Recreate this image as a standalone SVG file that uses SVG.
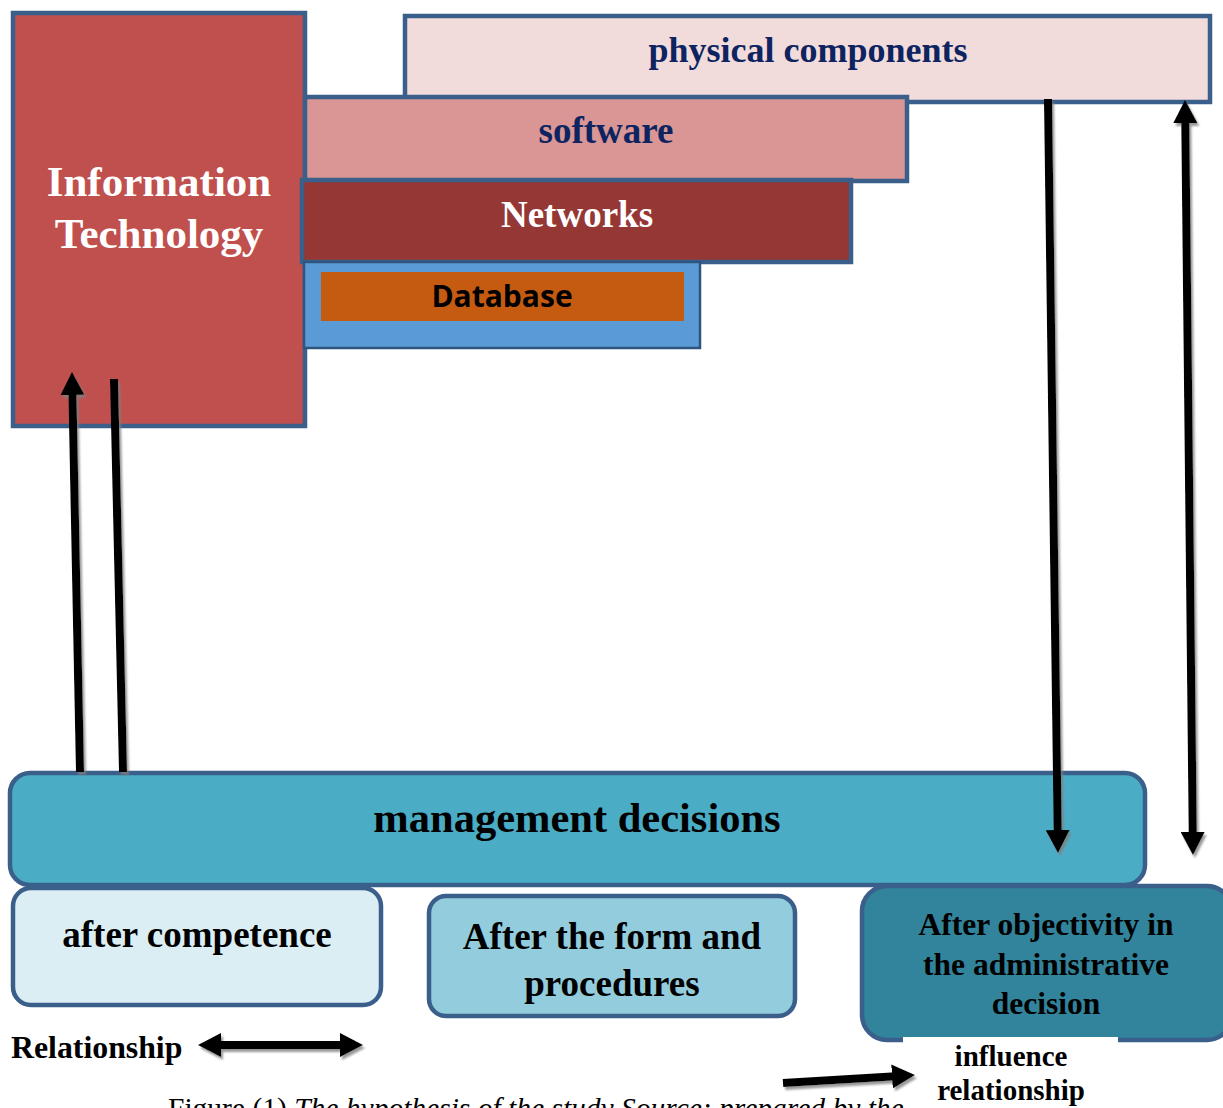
<svg xmlns="http://www.w3.org/2000/svg" width="1223" height="1108" viewBox="0 0 1223 1108">
<style>
.bx{stroke:#3A5F8B;stroke-width:4.5}
.rb{stroke:#3A5F8B;stroke-width:4.5}
.t{font-family:"Liberation Serif","Times New Roman",serif;font-weight:bold;text-anchor:middle}
.ar{stroke:#000;stroke-width:8;fill:none}
</style>
<defs>
<marker id="ah" viewBox="0 0 24 24" refX="8" refY="12" markerWidth="24" markerHeight="24" markerUnits="userSpaceOnUse" orient="auto-start-reverse">
<path d="M0,0 L23,12 L0,24 z" fill="#000"/>
</marker>
<filter id="sh" x="-20%" y="-20%" width="140%" height="140%">
<feDropShadow dx="2" dy="3" stdDeviation="1" flood-color="#7f7f7f" flood-opacity="0.8"/>
</filter>
</defs>

<g id="it">
<rect class="bx" x="13" y="13" width="292" height="413" fill="#C0504D"/>
<text class="t" x="159" y="196" font-size="43" fill="#fff">Information</text>
<text class="t" x="159" y="248" font-size="43" fill="#fff">Technology</text>
</g>

<g id="physical">
<rect class="bx" x="405" y="16" width="805" height="86" fill="#F2DCDB"/>
<text class="t" x="808" y="62" font-size="36" fill="#0E2461">physical components</text>
</g>

<g id="software">
<rect class="bx" x="305" y="97" width="602" height="84" fill="#D99694"/>
<text class="t" x="606" y="143" font-size="37" fill="#0E2461">software</text>
</g>

<g id="networks">
<rect class="bx" x="302" y="180" width="549" height="82" fill="#953735"/>
<text class="t" x="577" y="227" font-size="37" fill="#fff">Networks</text>
</g>

<g id="database">
<rect x="304" y="262" width="396" height="86" fill="#5B9BD5" stroke="#2E5580" stroke-width="2.5"/>
<rect x="321" y="272" width="363" height="49" fill="#C55A11"/>
<text x="502" y="307" font-family="'Open Sans','Liberation Sans',sans-serif" font-weight="bold" font-size="30" text-anchor="middle" fill="#000">Database</text>
</g>

<g id="management">
<rect class="rb" x="10" y="773" width="1135" height="112" rx="20" fill="#4BACC6"/>
<text class="t" x="577" y="832" font-size="42.5" fill="#000">management decisions</text>
</g>

<g id="competence">
<rect class="rb" x="13" y="888" width="368" height="117" rx="18" fill="#DBEEF4"/>
<text class="t" x="197" y="947" font-size="37" fill="#000">after competence</text>
</g>

<g id="form">
<rect class="rb" x="429" y="896" width="366" height="120" rx="17" fill="#93CDDD"/>
<text class="t" x="612" y="949" font-size="37" fill="#000">After the form and</text>
<text class="t" x="612" y="996" font-size="37" fill="#000">procedures</text>
</g>

<g id="objectivity">
<rect class="rb" x="862" y="886" width="370" height="154" rx="25" fill="#31849B"/>
<text class="t" x="1046" y="935" font-size="31.5" fill="#000">After objectivity in</text>
<text class="t" x="1046" y="975" font-size="31.5" fill="#000">the administrative</text>
<text class="t" x="1046" y="1014" font-size="31.5" fill="#000">decision</text>
</g>

<g id="legend">
<text x="11" y="1058" font-family="'Liberation Serif','Times New Roman',serif" font-weight="bold" font-size="31.8" fill="#000">Relationship</text>
<rect x="903" y="1037" width="215" height="71" fill="#fff"/>
<text class="t" x="1011" y="1066" font-size="29" fill="#000">influence</text>
<text class="t" x="1011" y="1100" font-size="29" fill="#000">relationship</text>
</g>

<g id="connectors" filter="url(#sh)">
<line class="ar" x1="80" y1="772" x2="72.3" y2="387" marker-end="url(#ah)"/>
<line class="ar" x1="123" y1="772" x2="114" y2="379"/>
<line class="ar" x1="1048" y1="99" x2="1057.8" y2="838" marker-end="url(#ah)"/>
<line class="ar" x1="1185.2" y1="115" x2="1192.8" y2="840" marker-start="url(#ah)" marker-end="url(#ah)"/>
<line class="ar" x1="213" y1="1045" x2="348" y2="1045" marker-start="url(#ah)" marker-end="url(#ah)"/>
<line class="ar" x1="783" y1="1083" x2="900" y2="1076" marker-end="url(#ah)"/>
</g>

<text x="168" y="1118" font-family="'Liberation Serif','Times New Roman',serif" font-size="29.5" fill="#000">Figure (1) <tspan font-style="italic">The hypothesis of the study Source: prepared by the</tspan></text>
</svg>
